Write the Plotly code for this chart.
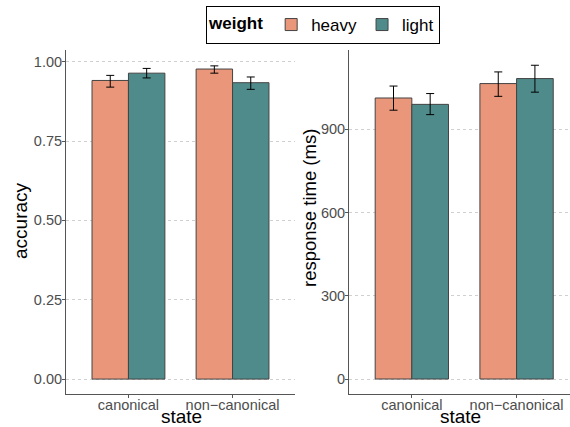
import plotly.graph_objects as go

states = ["canonical", "non\u2212canonical"]
weights = ["heavy", "light"]

acc_mean = {"heavy": [0.941, 0.977], "light": [0.964, 0.934]}
acc_hi = {"heavy": [0.957, 0.987], "light": [0.979, 0.952]}
acc_lo = {"heavy": [0.920, 0.964], "light": [0.949, 0.913]}

rt_mean = {"heavy": [1013, 1065], "light": [990, 1083]}
rt_hi = {"heavy": [1056, 1107], "light": [1029, 1131]}
rt_lo = {"heavy": [969, 1019], "light": [953, 1034]}

colors = {"heavy": "#E9967A", "light": "#4F8B8A"}

fig = go.Figure()

for w in weights:
    fig.add_trace(go.Bar(
        x=states, y=acc_mean[w], name=w, legendgroup=w, showlegend=True,
        marker=dict(color=colors[w], line=dict(color="#444444", width=1)),
        error_y=dict(type="data", symmetric=False,
                     array=[h - m for h, m in zip(acc_hi[w], acc_mean[w])],
                     arrayminus=[m - l for m, l in zip(acc_mean[w], acc_lo[w])],
                     color="black", thickness=1, width=4),
        xaxis="x", yaxis="y",
    ))
for w in weights:
    fig.add_trace(go.Bar(
        x=states, y=rt_mean[w], name=w, legendgroup=w, showlegend=False,
        marker=dict(color=colors[w], line=dict(color="#444444", width=1)),
        error_y=dict(type="data", symmetric=False,
                     array=[h - m for h, m in zip(rt_hi[w], rt_mean[w])],
                     arrayminus=[m - l for m, l in zip(rt_mean[w], rt_lo[w])],
                     color="black", thickness=1, width=4),
        xaxis="x2", yaxis="y2",
    ))

W, H = 570, 427
ydom = [1 - 394 / H, 1 - 50 / H]
axis_common = dict(showline=True, linecolor="#555555", linewidth=1,
                   ticks="outside", ticklen=3, tickcolor="#555555",
                   tickfont=dict(size=14.5, color="#4d4d4d"), automargin=False,
                   zeroline=False)

title_font = dict(size=19, color="black")
annotations = [
    dict(text="state", x=181 / W, y=-2 / H, xref="paper", yref="paper",
         xanchor="center", yanchor="bottom", showarrow=False, font=title_font),
    dict(text="state", x=460 / W, y=-2 / H, xref="paper", yref="paper",
         xanchor="center", yanchor="bottom", showarrow=False, font=title_font),
    dict(text="accuracy", x=20 / W, y=1 - 221 / H, xref="paper", yref="paper",
         xanchor="center", yanchor="middle", textangle=-90, showarrow=False, font=title_font),
    dict(text="response time (ms)", x=309 / W, y=1 - 208 / H, xref="paper", yref="paper",
         xanchor="center", yanchor="middle", textangle=-90, showarrow=False,
         font=dict(size=18.5, color="black")),
]

fig.update_layout(
    width=W, height=H,
    margin=dict(l=0, r=0, t=0, b=0),
    paper_bgcolor="white", plot_bgcolor="white",
    font=dict(family="Liberation Sans, Arial, sans-serif", color="black"),
    barmode="group", bargap=0.3, bargroupgap=0,
    showlegend=True,
    legend=dict(orientation="h", x=323 / W, xanchor="center", y=1 - 6 / H, yanchor="top",
                title=dict(text="<b>weight</b>", font=dict(size=17)),
                font=dict(size=17), bordercolor="black", borderwidth=1,
                itemwidth=30, tracegroupgap=0),
    annotations=annotations,
    xaxis=dict(domain=[66 / W, 295 / W], range=[-0.6, 1.6], anchor="y",
               showgrid=False, ticklabelstandoff=-5, **axis_common),
    yaxis=dict(domain=ydom, range=[-0.047, 1.037], anchor="x",
               tickvals=[0, 0.25, 0.5, 0.75, 1.0],
               ticktext=["0.00", "0.25", "0.50", "0.75", "1.00"],
               showgrid=True, gridcolor="#d0d0d0", griddash="dot", gridwidth=1,
               ticklabelstandoff=-3, **axis_common),
    xaxis2=dict(domain=[349 / W, 1.0], range=[-0.6, 1.51], anchor="y2",
                showgrid=False, ticklabelstandoff=-5, **axis_common),
    yaxis2=dict(domain=ydom, range=[-54, 1186], anchor="x2",
                tickvals=[0, 300, 600, 900],
                showgrid=True, gridcolor="#d0d0d0", griddash="dot", gridwidth=1,
                ticklabelstandoff=-3, **axis_common),
)

fig.write_html("out.html", config={"displayModeBar": False},
               post_script="document.body.style.margin='0';")
